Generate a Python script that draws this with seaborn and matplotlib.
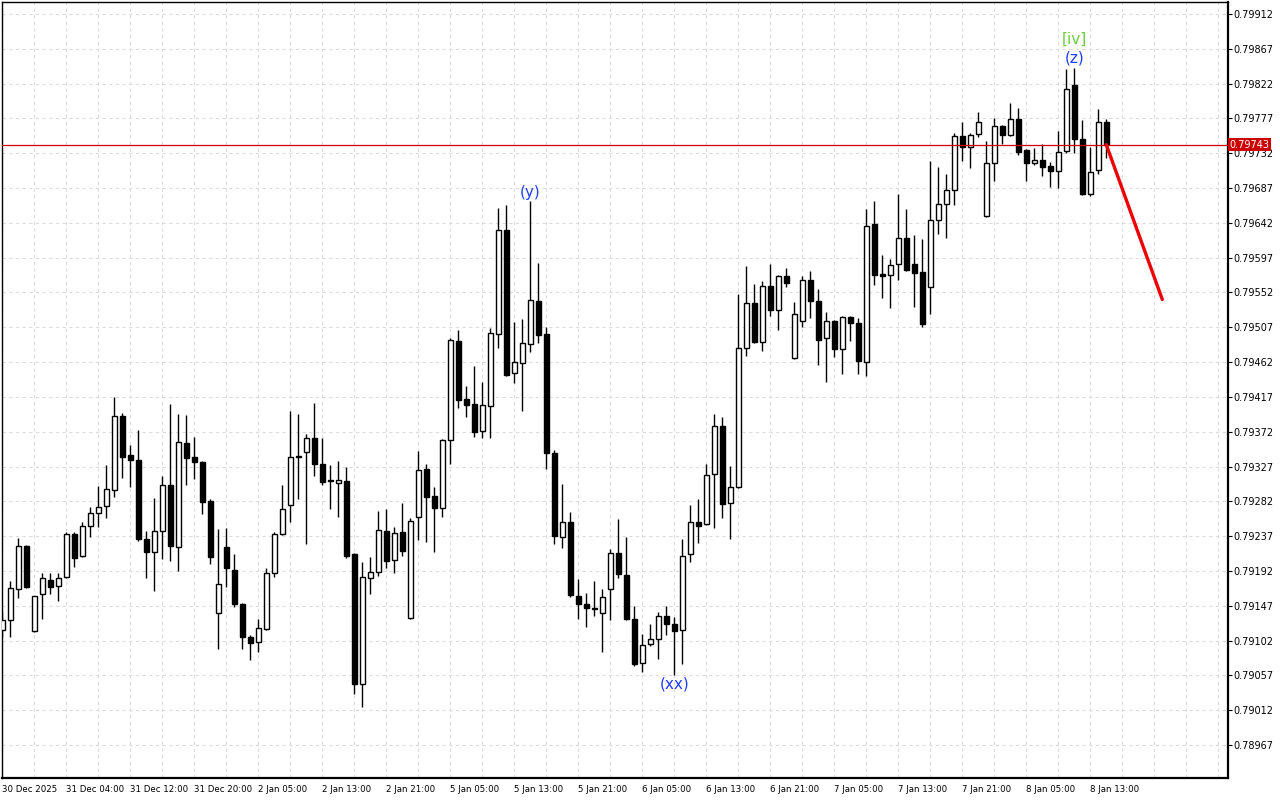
import numpy as np
import pandas as pd
import matplotlib
matplotlib.use("Agg")
import matplotlib.pyplot as plt
import seaborn as sns

# --- hourly OHLC, one bar per hour (gaps for holiday / weekend are just skipped) ---
opens = [
    0.79116, 0.79129, 0.79169, 0.79224, 0.79114, 0.79162, 0.79180, 0.79173, 0.79184, 0.79240,
    0.79211, 0.79250, 0.79267, 0.79276, 0.79297, 0.79392, 0.79342, 0.79336, 0.79233, 0.79217,
    0.79244, 0.79303, 0.79223, 0.79357, 0.79339, 0.79333, 0.79283, 0.79138, 0.79223, 0.79193,
    0.79149, 0.79107, 0.79100, 0.79117, 0.79189, 0.79240, 0.79277, 0.79341, 0.79346, 0.79364,
    0.79330, 0.79310, 0.79306, 0.79308, 0.79214, 0.79046, 0.79183, 0.79191, 0.79244, 0.79206,
    0.79242, 0.79131, 0.79262, 0.79324, 0.79289, 0.79273, 0.79361, 0.79489, 0.79414, 0.79408,
    0.79373, 0.79405, 0.79498, 0.79633, 0.79448, 0.79461, 0.79485, 0.79541, 0.79498, 0.79345,
    0.79236, 0.79255, 0.79160, 0.79149, 0.79144, 0.79138, 0.79169, 0.79215, 0.79187, 0.79130,
    0.79073, 0.79098, 0.79104, 0.79134, 0.79123, 0.79116, 0.79214, 0.79255, 0.79253, 0.79317,
    0.79379, 0.79280, 0.79301, 0.79480, 0.79538, 0.79488, 0.79560, 0.79529, 0.79573, 0.79467,
    0.79515, 0.79568, 0.79541, 0.79493, 0.79515, 0.79479, 0.79520, 0.79513, 0.79462, 0.79640,
    0.79576, 0.79575, 0.79589, 0.79622, 0.79589, 0.79578, 0.79559, 0.79646, 0.79666, 0.79685,
    0.79754, 0.79740, 0.79757, 0.79651, 0.79719, 0.79767, 0.79756, 0.79776, 0.79736, 0.79719,
    0.79723, 0.79716, 0.79709, 0.79735, 0.79820, 0.79750, 0.79679, 0.79710, 0.79772,
]
highs = [
    0.79139, 0.79179, 0.79235, 0.79226, 0.79160, 0.79189, 0.79189, 0.79189, 0.79242, 0.79242,
    0.79255, 0.79275, 0.79302, 0.79329, 0.79417, 0.79396, 0.79355, 0.79374, 0.79244, 0.79286,
    0.79315, 0.79408, 0.79395, 0.79394, 0.79365, 0.79334, 0.79285, 0.79246, 0.79248, 0.79214,
    0.79151, 0.79109, 0.79130, 0.79196, 0.79242, 0.79303, 0.79399, 0.79395, 0.79369, 0.79409,
    0.79364, 0.79329, 0.79334, 0.79326, 0.79215, 0.79204, 0.79210, 0.79270, 0.79272, 0.79249,
    0.79280, 0.79260, 0.79347, 0.79330, 0.79301, 0.79363, 0.79493, 0.79504, 0.79431, 0.79457,
    0.79436, 0.79506, 0.79661, 0.79665, 0.79514, 0.79518, 0.79670, 0.79590, 0.79507, 0.79348,
    0.79304, 0.79268, 0.79182, 0.79164, 0.79179, 0.79169, 0.79220, 0.79259, 0.79236, 0.79147,
    0.79110, 0.79123, 0.79139, 0.79147, 0.79132, 0.79233, 0.79277, 0.79285, 0.79330, 0.79395,
    0.79391, 0.79328, 0.79550, 0.79586, 0.79563, 0.79567, 0.79589, 0.79575, 0.79584, 0.79540,
    0.79573, 0.79580, 0.79556, 0.79527, 0.79516, 0.79522, 0.79522, 0.79519, 0.79660, 0.79670,
    0.79600, 0.79595, 0.79679, 0.79660, 0.79626, 0.79621, 0.79722, 0.79714, 0.79705, 0.79758,
    0.79772, 0.79758, 0.79785, 0.79748, 0.79778, 0.79769, 0.79797, 0.79791, 0.79738, 0.79739,
    0.79744, 0.79721, 0.79761, 0.79841, 0.79842, 0.79775, 0.79740, 0.79789, 0.79776,
]
lows = [
    0.79107, 0.79107, 0.79157, 0.79170, 0.79113, 0.79130, 0.79162, 0.79153, 0.79183, 0.79197,
    0.79210, 0.79236, 0.79249, 0.79260, 0.79288, 0.79312, 0.79301, 0.79231, 0.79183, 0.79166,
    0.79208, 0.79205, 0.79192, 0.79303, 0.79311, 0.79266, 0.79201, 0.79091, 0.79171, 0.79145,
    0.79091, 0.79077, 0.79087, 0.79116, 0.79184, 0.79239, 0.79255, 0.79285, 0.79227, 0.79315,
    0.79303, 0.79272, 0.79262, 0.79209, 0.79033, 0.79016, 0.79162, 0.79186, 0.79196, 0.79189,
    0.79211, 0.79130, 0.79232, 0.79230, 0.79217, 0.79262, 0.79330, 0.79403, 0.79391, 0.79365,
    0.79364, 0.79364, 0.79480, 0.79444, 0.79435, 0.79399, 0.79475, 0.79487, 0.79324, 0.79227,
    0.79222, 0.79158, 0.79130, 0.79120, 0.79134, 0.79087, 0.79129, 0.79183, 0.79129, 0.79069,
    0.79061, 0.79095, 0.79078, 0.79109, 0.79057, 0.79072, 0.79204, 0.79228, 0.79251, 0.79248,
    0.79260, 0.79233, 0.79299, 0.79470, 0.79487, 0.79476, 0.79522, 0.79504, 0.79559, 0.79466,
    0.79507, 0.79519, 0.79458, 0.79436, 0.79469, 0.79447, 0.79489, 0.79447, 0.79444, 0.79562,
    0.79545, 0.79532, 0.79568, 0.79580, 0.79533, 0.79507, 0.79524, 0.79628, 0.79622, 0.79665,
    0.79722, 0.79713, 0.79753, 0.79650, 0.79696, 0.79744, 0.79754, 0.79730, 0.79696, 0.79717,
    0.79703, 0.79688, 0.79687, 0.79732, 0.79732, 0.79678, 0.79677, 0.79705, 0.79726,
]
closes = [
    0.79129, 0.79170, 0.79224, 0.79171, 0.79160, 0.79183, 0.79171, 0.79183, 0.79240, 0.79209,
    0.79250, 0.79267, 0.79275, 0.79298, 0.79392, 0.79339, 0.79336, 0.79233, 0.79217, 0.79244,
    0.79303, 0.79224, 0.79359, 0.79338, 0.79333, 0.79281, 0.79210, 0.79175, 0.79196, 0.79149,
    0.79107, 0.79099, 0.79118, 0.79189, 0.79240, 0.79272, 0.79339, 0.79339, 0.79364, 0.79330,
    0.79307, 0.79308, 0.79310, 0.79211, 0.79046, 0.79184, 0.79191, 0.79245, 0.79205, 0.79241,
    0.79218, 0.79257, 0.79322, 0.79288, 0.79273, 0.79361, 0.79491, 0.79413, 0.79407, 0.79372,
    0.79407, 0.79500, 0.79633, 0.79445, 0.79462, 0.79487, 0.79542, 0.79497, 0.79345, 0.79237,
    0.79255, 0.79161, 0.79149, 0.79144, 0.79143, 0.79158, 0.79215, 0.79188, 0.79130, 0.79072,
    0.79096, 0.79104, 0.79134, 0.79123, 0.79114, 0.79211, 0.79255, 0.79250, 0.79316, 0.79379,
    0.79279, 0.79301, 0.79480, 0.79538, 0.79488, 0.79560, 0.79529, 0.79573, 0.79564, 0.79524,
    0.79568, 0.79541, 0.79491, 0.79515, 0.79479, 0.79520, 0.79513, 0.79463, 0.79638, 0.79575,
    0.79573, 0.79587, 0.79622, 0.79581, 0.79577, 0.79511, 0.79646, 0.79666, 0.79685, 0.79754,
    0.79740, 0.79756, 0.79772, 0.79719, 0.79767, 0.79756, 0.79776, 0.79734, 0.79719, 0.79723,
    0.79714, 0.79709, 0.79734, 0.79815, 0.79750, 0.79679, 0.79708, 0.79772, 0.79743,
]

# time labels, one every 8 bars
date_labels = ["30 Dec 2025", "31 Dec 04:00", "31 Dec 12:00", "31 Dec 20:00", "2 Jan 05:00",
               "2 Jan 13:00", "2 Jan 21:00", "5 Jan 05:00", "5 Jan 13:00", "5 Jan 21:00",
               "6 Jan 05:00", "6 Jan 13:00", "6 Jan 21:00", "7 Jan 05:00", "7 Jan 13:00",
               "7 Jan 21:00", "8 Jan 05:00", "8 Jan 13:00"]

last_price = 0.79743
forecast_x = [138, 145]
forecast_y = [0.79743, 0.79543]

# wave marks: bar index, text, colour, above/below
wave_idx = [66, 84, 134, 134]
wave_text = ["(y)", "(xx)", "(z)", "[iv]"]
wave_color = ["#1f3cff", "#1f3cff", "#1f3cff", "#6ccf3a"]
wave_side = ["high", "low", "high", "high"]
wave_gap = [9, 9, 10, 29]  # pixels

df = pd.DataFrame({"open": opens, "high": highs, "low": lows, "close": closes})
df["x"] = np.arange(len(df))
df["up"] = df["close"] >= df["open"]

sns.set_theme(style="white")
plt.rcParams["font.family"] = ["DejaVu Sans"]

fig = plt.figure(figsize=(12.8, 8), dpi=100)
ax = fig.add_axes([2 / 1280, 22 / 800, 1226 / 1280, 776 / 800])
ax.set_facecolor("white")

# wicks then bodies
ax.vlines(df["x"], df["low"], df["high"], color="black", lw=1.0, zorder=2)
body_lo = df[["open", "close"]].min(axis=1)
body_h = (df["close"] - df["open"]).abs()
ax.bar(df["x"], body_h, bottom=body_lo, width=0.58,
       color=np.where(df["up"], "white", "black"), edgecolor="black", lw=1.0, zorder=3)

# current price line + forecast
ax.axhline(last_price, color="#d40000", lw=0.9, zorder=4)
sns.lineplot(x=forecast_x, y=forecast_y, color="#ee0000", lw=2.4, ax=ax, zorder=5)

# wave labels
for i, t, c, s, g in zip(wave_idx, wave_text, wave_color, wave_side, wave_gap):
    yv = df.loc[i, s]
    off = g if s == "high" else -g
    ax.annotate(t, (i, yv), xytext=(0, off * 0.72), textcoords="offset points",
                ha="center", va="center", color=c, fontsize=11)

# axes limits (8 px per bar)
ax.set_xlim(-0.0375, 153.2125)
ax.set_ylim(0.789244, 0.799275)

# y axis on the right
yticks = np.round(0.78967 + 0.00045 * np.arange(22), 5)
ax.yaxis.tick_right()
ax.set_yticks(yticks)
ax.set_yticklabels([f"{v:.5f}" for v in yticks])
ax.tick_params(axis="y", which="major", direction="out", length=3, width=0.8,
               labelsize=7, pad=1, colors="black")

# x axis: label every 8 bars, grid every 4
major = list(range(0, 153, 8))
ax.set_xticks(major)
ax.set_xticklabels([date_labels[k] if k < len(date_labels) else "" for k in range(len(major))])
ax.set_xticks(list(range(4, 153, 8)), minor=True)
ax.tick_params(axis="x", which="major", direction="out", length=4, width=0.8,
               labelsize=6.2, pad=1, colors="black")
ax.tick_params(axis="x", which="minor", direction="out", length=2, width=0.6)
for lab in ax.get_xticklabels():
    lab.set_horizontalalignment("left")

ax.grid(True, axis="x", which="both", color="#dcdcdc", ls=(0, (3, 3)), lw=0.8)
ax.grid(True, axis="y", which="major", color="#dcdcdc", ls=(0, (3, 3)), lw=0.8)
ax.set_axisbelow(True)

for side, w in [("left", 1.0), ("top", 1.0), ("right", 1.6), ("bottom", 1.6)]:
    ax.spines[side].set_visible(True)
    ax.spines[side].set_color("black")
    ax.spines[side].set_linewidth(w)

# current price tag on the axis
ax.text(1.0015, last_price, f"{last_price:.5f}", transform=ax.get_yaxis_transform(),
        color="white", fontsize=7, ha="left", va="center", zorder=10, clip_on=False,
        bbox=dict(boxstyle="square,pad=0.15", fc="#cc0000", ec="none"))

fig.savefig("out.png", dpi=100, facecolor="white")
